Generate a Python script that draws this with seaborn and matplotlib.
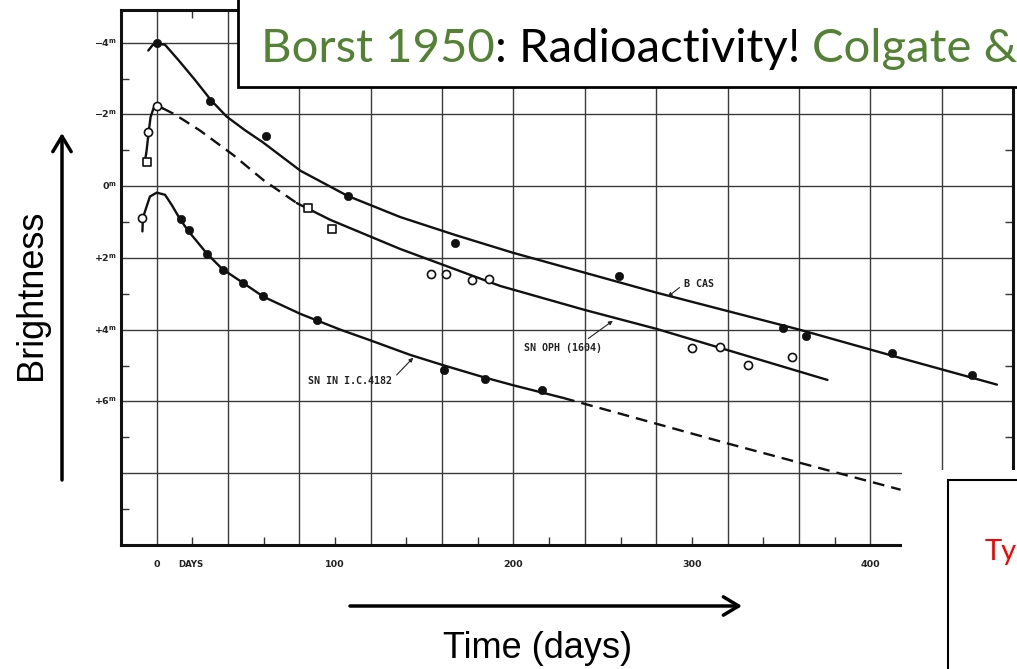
import numpy as np
import pandas as pd
import matplotlib
matplotlib.use("Agg")
import matplotlib.pyplot as plt
import seaborn as sns
from matplotlib.patches import Rectangle, FancyArrowPatch
from matplotlib.text import Annotation

# ---------------- data (day, magnitude) ----------------
# B CAS (Tycho 1572): observations and drawn curve
bcas_day = [0, 30, 61, 107, 167, 259, 351, 364, 412, 457]
bcas_mag = [-4.0, -2.37, -1.4, 0.27, 1.58, 2.5, 3.94, 4.17, 4.66, 5.26]
bcas_curve_day = [-4.7, -2.3, 0, 4.7, 12.1, 21.5, 30.4, 39.2, 49.5, 59.6, 80.6, 107,
                  136.5, 167.3, 200, 280.4, 360.4, 416.3, 471]
bcas_curve_mag = [-3.78, -3.93, -3.98, -3.94, -3.52, -2.96, -2.40, -1.94, -1.56, -1.22,
                  -0.43, 0.27, 0.86, 1.36, 1.86, 2.97, 4.0, 4.78, 5.53]

# SN OPH (1604)
oph_sq_day = [-5.2, 85, 98]
oph_sq_mag = [-0.68, 0.61, 1.2]
oph_circ_day = [-4.7, 0, 154, 162, 177, 186, 300, 316, 331.5, 356]
oph_circ_mag = [-1.5, -2.24, 2.44, 2.44, 2.61, 2.59, 4.5, 4.47, 4.98, 4.76]
oph_rise_day = [-6.7, -5.6, -4.5, -3.4, -1.7, 0, 3.4]
oph_rise_mag = [-0.65, -1.01, -1.51, -1.93, -2.18, -2.26, -2.17]
oph_dash_day = [3.4, 9.0, 14.9, 24.3, 42.9, 59.8, 78.5]
oph_dash_mag = [-2.17, -2.03, -1.85, -1.55, -0.87, -0.17, 0.47]
oph_tail_day = [78.5, 97.4, 136.5, 192.5, 240, 280.4, 376]
oph_tail_mag = [0.47, 0.94, 1.75, 2.78, 3.45, 3.98, 5.40]

# SN in I.C. 4182 (1937)
ic_fill_day = [13.4, 18, 28.3, 37.2, 48.5, 59.7, 89.9, 161.3, 184.2, 216.2]
ic_fill_mag = [0.91, 1.22, 1.89, 2.33, 2.69, 3.07, 3.74, 5.12, 5.37, 5.69]
ic_open_day = [-8.4]
ic_open_mag = [0.9]
ic_curve_day = [-8.0, -7.7, -5.6, -3.8, 0, 4.7, 8.4, 13, 17.6, 28, 36.8, 48, 59.8, 80.6,
                103, 120, 142, 160, 183, 200, 227.8]
ic_curve_mag = [1.26, 0.88, 0.56, 0.29, 0.18, 0.24, 0.52, 0.91, 1.24, 1.87, 2.31, 2.68, 3.08,
                3.56, 4.0, 4.30, 4.70, 4.98, 5.32, 5.55, 5.90]
ic_dash_day = [227.8, 320, 417]
ic_dash_mag = [5.90, 7.17, 8.46]

x_tick_vals = [0, 100, 200, 300, 400]
y_tick_vals = [-4, -2, 0, 2, 4, 6]
y_tick_text = [r"$\mathbf{-4}^{\mathbf{m}}$", r"$\mathbf{-2}^{\mathbf{m}}$", r"$\mathbf{0}^{\mathbf{m}}$",
               r"$\mathbf{+2}^{\mathbf{m}}$", r"$\mathbf{+4}^{\mathbf{m}}$", r"$\mathbf{+6}^{\mathbf{m}}$"]

title_parts = ["Borst 1950", ": Radioactivity! ", "Colgate &"]

# ---------------- style ----------------
sns.set_style("white")
plt.rcParams["font.family"] = ["DejaVu Sans"]

W, H = 1017, 669
fig = plt.figure(figsize=(W / 100, H / 100), dpi=100)
fig.patch.set_facecolor("white")
ax = fig.add_axes([121 / W, 1 - 545 / H, (1013 - 121) / W, (545 - 10) / H])
ax.set_xlim(-20, 480)
ax.set_ylim(10, -4.91)

ax.set_xticks(np.arange(0, 441, 40))
ax.set_yticks(np.arange(-4, 9, 2))
ax.set_xticks(np.arange(20, 461, 40), minor=True)
ax.set_yticks(np.arange(-3, 10, 2), minor=True)
ax.tick_params(which="major", length=0, labelbottom=False, labelleft=False)
ax.tick_params(which="minor", direction="in", length=6, width=1.0, color="#333333",
               top=True, right=True, bottom=True, left=True)
ax.grid(True, which="major", color="#3a3a3a", lw=1.0)
for s in ax.spines.values():
    s.set_color("#111111")
    s.set_linewidth(2.2)
ax.set_xlabel("")
ax.set_ylabel("")

lw = 1.7
dash = (0, (5, 3))
ink = "#111111"
common = dict(ax=ax, color=ink, lw=lw, sort=False, estimator=None)
sns.lineplot(x=bcas_curve_day, y=bcas_curve_mag, **common)
sns.lineplot(x=oph_rise_day, y=oph_rise_mag, **common)
sns.lineplot(x=oph_dash_day, y=oph_dash_mag, ls=dash, **common)
sns.lineplot(x=oph_tail_day, y=oph_tail_mag, **common)
sns.lineplot(x=ic_curve_day, y=ic_curve_mag, **common)
sns.lineplot(x=ic_dash_day, y=ic_dash_mag, ls=dash, **common)

# observations
sns.scatterplot(x=bcas_day, y=bcas_mag, ax=ax, color=ink, marker="o", s=36, edgecolor=ink, zorder=5)
sns.scatterplot(x=ic_fill_day, y=ic_fill_mag, ax=ax, color=ink, marker="o", s=36, edgecolor=ink, zorder=5)
sns.scatterplot(x=oph_circ_day, y=oph_circ_mag, ax=ax, color="white", marker="o", s=34,
                edgecolor=ink, linewidth=1.2, zorder=5)
sns.scatterplot(x=ic_open_day, y=ic_open_mag, ax=ax, color="white", marker="o", s=34,
                edgecolor=ink, linewidth=1.2, zorder=5)
sns.scatterplot(x=oph_sq_day, y=oph_sq_mag, ax=ax, color="white", marker="s", s=30,
                edgecolor=ink, linewidth=1.2, zorder=5)

# curve labels
lab = dict(fontsize=7.2, fontweight="bold", color="#222222", family="DejaVu Sans Mono")
arr = dict(arrowstyle="-|>", lw=0.8, color="#222222", mutation_scale=6, shrinkA=1, shrinkB=0)
ax.annotate("B CAS", xy=(286.5, 3.08), xytext=(295.5, 2.73), ha="left", va="center", **lab,
            arrowprops=dict(relpos=(0.0, 0.5), **arr))
ax.annotate("SN OPH (1604)", xy=(255.7, 3.75), xytext=(227.8, 4.5), ha="center", va="center", **lab,
            arrowprops=dict(relpos=(0.75, 1.0), **arr))
ax.annotate("SN IN I.C.4182", xy=(143.8, 4.78), xytext=(108.6, 5.44), ha="center", va="center", **lab,
            arrowprops=dict(relpos=(1.0, 0.7), **arr))

# tick labels (hand-lettered on the original)
for v in x_tick_vals:
    ax.text(v, -0.037, str(v), transform=ax.get_xaxis_transform(), ha="center", va="center",
            fontsize=6.8, fontweight="bold", color="#222222")
ax.text(19, -0.037, "DAYS", transform=ax.get_xaxis_transform(), ha="center", va="center",
        fontsize=6.2, fontweight="bold", color="#222222")
for v, t in zip(y_tick_vals, y_tick_text):
    ax.text(-0.005, v, t, transform=ax.get_yaxis_transform(), ha="right", va="center",
            fontsize=6.8, color="#222222")

# ---------------- slide overlays ----------------
# white area where the scanned figure is cut
fig.add_artist(Rectangle((902 / W, 0), 1, 1 - 470 / H, transform=fig.transFigure,
                         facecolor="white", edgecolor="none", zorder=5))
# title box
fig.add_artist(Rectangle((238 / W, 1 - 87 / H), 1, 0.3, transform=fig.transFigure,
                         facecolor="white", edgecolor="black", lw=2, zorder=10))
green = "#548235"
t1 = fig.text(261 / W, 1 - 61.5 / H, title_parts[0], color=green, fontsize=34, family="Lato",
              ha="left", va="baseline", zorder=11)
a2 = Annotation(title_parts[1], xy=(1, 0), xycoords=t1, va="bottom", ha="left",
                color="black", fontsize=34, family="Lato", zorder=11)
fig.add_artist(a2)
a3 = Annotation(title_parts[2], xy=(1, 0), xycoords=a2, va="bottom", ha="left",
                color=green, fontsize=34, family="Lato", zorder=11)
fig.add_artist(a3)

# "Ty" box
fig.add_artist(Rectangle((948 / W, -0.1), 1, 1 - 480 / H + 0.1, transform=fig.transFigure,
                         facecolor="white", edgecolor="black", lw=1.5, zorder=10))
fig.text(985 / W, 1 - 560 / H, "Ty", color="red", fontsize=21, family="Lato",
         ha="left", va="baseline", zorder=11)

# axis words and arrows
fig.text(31 / W, 1 - 295 / H, "Brightness", rotation=90, fontsize=26, family="Liberation Sans",
         ha="center", va="center", color="black")
fig.text(538 / W, 1 - 648 / H, "Time (days)", fontsize=26, family="Liberation Sans",
         ha="center", va="center", color="black")
fig.add_artist(FancyArrowPatch((62 / W, 1 - 480 / H), (62 / W, 1 - 133 / H), transform=fig.transFigure,
                               arrowstyle="->,head_length=0.5,head_width=0.3", mutation_scale=22,
                               lw=2.5, color="black", shrinkA=0, shrinkB=0))
fig.add_artist(FancyArrowPatch((350 / W, 1 - 606 / H), (742 / W, 1 - 606 / H), transform=fig.transFigure,
                               arrowstyle="->,head_length=0.5,head_width=0.3", mutation_scale=22,
                               lw=2.5, color="black", shrinkA=0, shrinkB=0))

fig.savefig("out.png", dpi=100, facecolor="white")
